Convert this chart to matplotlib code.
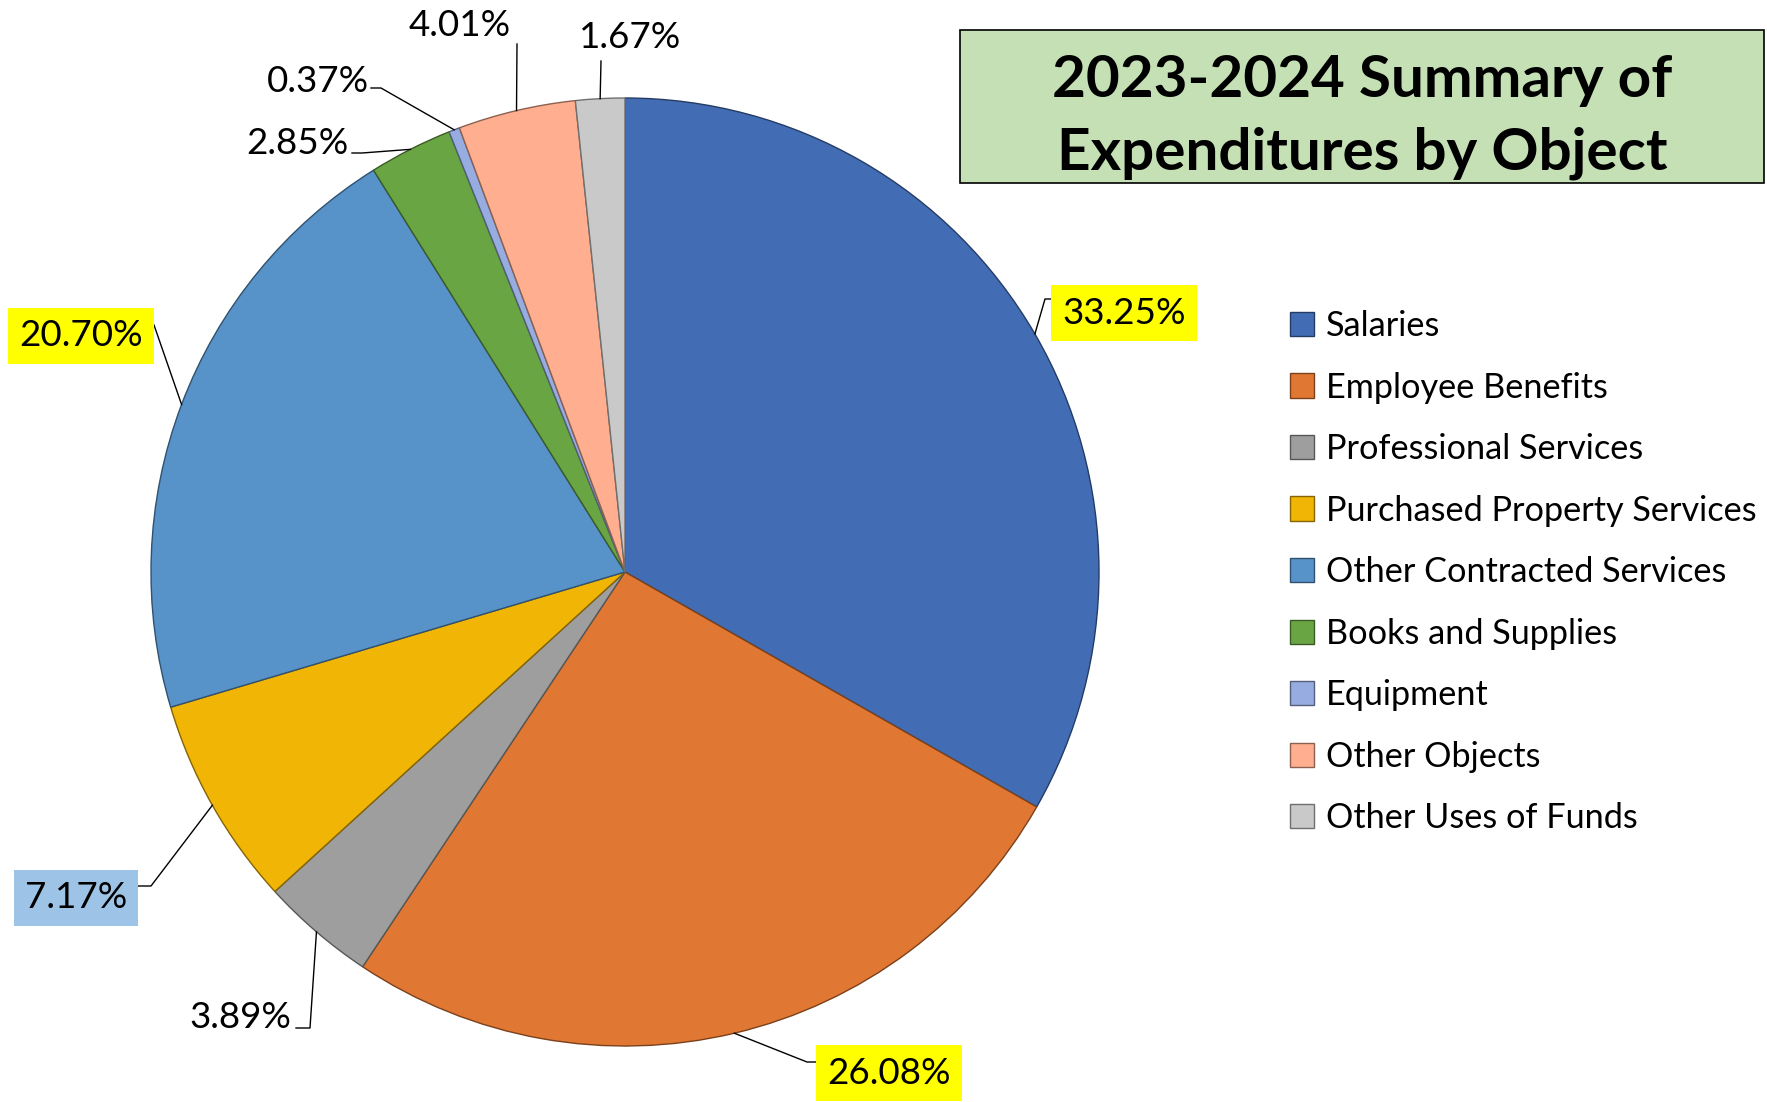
import numpy as np
import matplotlib.pyplot as plt
from matplotlib.colors import to_rgb

plt.rcParams['font.family'] = ['Lato', 'DejaVu Sans']

# data
categories = ['Salaries', 'Employee Benefits', 'Professional Services',
              'Purchased Property Services', 'Other Contracted Services',
              'Books and Supplies', 'Equipment', 'Other Objects',
              'Other Uses of Funds']
percents = [33.25, 26.08, 3.89, 7.17, 20.70, 2.85, 0.37, 4.01, 1.67]
colors = ['#426DB5', '#E07732', '#9E9E9E', '#F0B505', '#5793C9',
          '#6AA544', '#97ACE0', '#FFAF8F', '#C9C9C9']
label_bg = [
    '#FFFF00', '#FFFF00', None, '#9DC3E6', '#FFFF00', None, None, None, None]

# layout in pixels (y measured from the top)
W, H = 1767, 1102
cx, cy, R = 625, 572, 474
# label centre, and leader points from label side towards the wedge
label_pos = [(1124, 313), (889, 1073), (240, 1017), (76, 898), (81, 336),
             (297, 143), (318, 82), (460, 26), (630, 38)]
leaders = [
    [(1054, 299), (1045, 299)],
    [(818, 1062), (807, 1062)],
    [(296, 1028), (310, 1028)],
    [(137, 886), (151, 886)],
    [(154, 325)],
    [(352, 153), (362, 153)],
    [(371, 88), (381, 88)],
    [(517, 44)],
    [(601, 61)],
]

fig = plt.figure(figsize=(W / 100, H / 100), dpi=100)
ax = fig.add_axes([0, 0, 1, 1])

edge = [tuple(np.array(to_rgb(c)) * 0.55) for c in colors]
wedges, _ = ax.pie(percents, colors=colors, startangle=90, counterclock=False,
                   center=(cx, H - cy), radius=R, frame=False,
                   wedgeprops={'linewidth': 1.0})
for w, e in zip(wedges, edge):
    w.set_edgecolor(e)

ax.set_xlim(0, W)
ax.set_ylim(0, H)
ax.set_aspect('equal')
ax.axis('off')

# data labels with leader lines
for w, pct, pos, pts, bg in zip(wedges, percents, label_pos, leaders, label_bg):
    mid = np.deg2rad((w.theta1 + w.theta2) / 2)
    ex = cx + R * np.cos(mid)
    ey = (H - cy) + R * np.sin(mid)
    xs = [p[0] for p in pts] + [ex]
    ys = [H - p[1] for p in pts] + [ey]
    ax.plot(xs, ys, color='black', lw=1.0, zorder=1)
    bbox = None
    if bg:
        bbox = dict(boxstyle='square,pad=0.3', fc=bg, ec='none')
    ax.text(pos[0], H - pos[1], f'{pct:.2f}%', ha='center', va='center',
            fontsize=26.5, color='black', bbox=bbox, zorder=3)

# title box
ax.add_patch(plt.Rectangle((960, H - 183), 804, 153, fc='#C5E0B4',
                           ec='black', lw=1.2, zorder=2))
ax.text(1362, H - 117, '2023-2024 Summary of\nExpenditures by Object',
        ha='center', va='center', fontsize=42, fontweight='bold',
        linespacing=1.45, zorder=3)

leg = ax.legend(wedges, categories, loc='upper left',
                bbox_to_anchor=(1290 / W, 1 - 310 / H),
                bbox_transform=fig.transFigure, frameon=False,
                fontsize=24.7, handlelength=0.7, handleheight=0.7,
                handletextpad=0.35, labelspacing=0.86, borderpad=0,
                borderaxespad=0)

fig.savefig('out.png', dpi=100)
